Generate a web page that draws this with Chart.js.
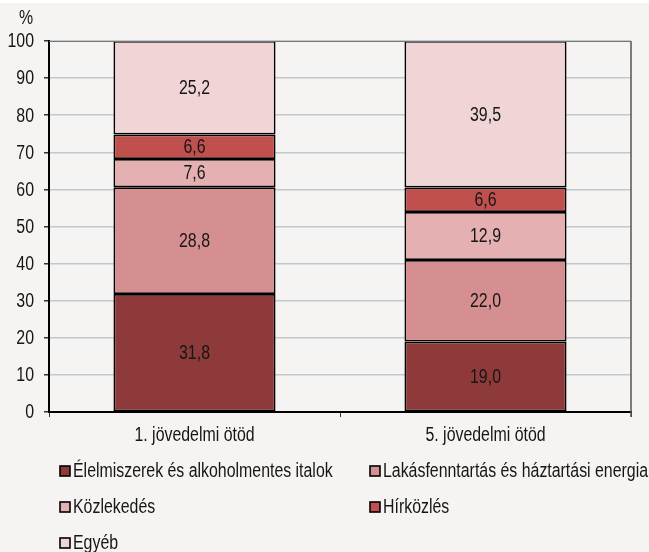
<!DOCTYPE html>
<html>
<head>
<meta charset="utf-8">
<script src="https://cdn.jsdelivr.net/npm/chart.js@4/dist/chart.umd.min.js"></script>
<style>
  html, body { margin: 0; padding: 0; background: #f5f4f2; }
  #wrap { width: 649px; height: 552px; position: relative; }
</style>
</head>
<body>
<div id="wrap"><canvas id="chart"></canvas></div>
<script>
// no narrow font installed, so Liberation Sans gets squeezed sideways
const FONT = "'Liberation Sans', Arial, sans-serif";
const FONT_SIZE = 19.5;
const SQUEEZE = 0.815;
const TEXT_COLOR = "#161616";

// ---------------- DATA ----------------
const categories = ["1. jövedelmi ötöd", "5. jövedelmi ötöd"];
const seriesNames = [
  "Élelmiszerek és alkoholmentes italok",
  "Lakásfenntartás és háztartási energia",
  "Közlekedés",
  "Hírközlés",
  "Egyéb"
];
const food = [31.8, 19.0];
const housing = [28.8, 22.0];
const transport = [7.6, 12.9];
const telecom = [6.6, 6.6];
const other = [25.2, 39.5];
const yTicks = [0, 10, 20, 30, 40, 50, 60, 70, 80, 90, 100];

const colors = ["#8e3a3a", "#d68f91", "#e4b0b1", "#c0504d", "#f1d4d5"];
const values = [food, housing, transport, telecom, other];

// ---------------- TEXT HELPER ----------------
function narrowText(ctx, text, x, y, align) {
  ctx.save();
  ctx.translate(x, y);
  ctx.scale(SQUEEZE, 1);
  ctx.font = FONT_SIZE + "px " + FONT;
  ctx.fillStyle = TEXT_COLOR;
  ctx.textAlign = align;
  ctx.textBaseline = "middle";
  ctx.fillText(text, 0, 0);
  ctx.restore();
}

// ---------------- PLUGINS ----------------
const background = {
  id: "background",
  beforeDraw(chart) {
    const ctx = chart.ctx;
    ctx.save();
    ctx.fillStyle = "#f5f4f2";
    ctx.fillRect(0, 0, chart.width, chart.height);
    ctx.fillStyle = "#ffffff";
    ctx.fillRect(0, 0, chart.width, 3);
    ctx.restore();
  }
};

const barLabels = {
  id: "barLabels",
  afterDatasetsDraw(chart) {
    const ctx = chart.ctx;
    chart.data.datasets.forEach((ds, i) => {
      chart.getDatasetMeta(i).data.forEach((bar, j) => {
        const y = (bar.y + bar.base) / 2;
        narrowText(ctx, ds.data[j].toFixed(1).replace(".", ","), bar.x, y + 1, "center");
      });
    });
  }
};

const frame = {
  id: "frame",
  afterDraw(chart) {
    const ctx = chart.ctx;
    const a = chart.chartArea;
    const xs = chart.scales.x;
    const ys = chart.scales.y;
    ctx.save();
    // right border
    ctx.strokeStyle = "#555";
    ctx.lineWidth = 1.5;
    ctx.beginPath();
    ctx.moveTo(a.right, a.top);
    ctx.lineTo(a.right, a.bottom + 5);
    ctx.stroke();
    // top line
    ctx.strokeStyle = "#777";
    ctx.lineWidth = 1;
    ctx.beginPath();
    ctx.moveTo(a.left, a.top + 0.5);
    ctx.lineTo(a.right, a.top + 0.5);
    ctx.stroke();
    ctx.restore();

    // tick labels
    yTicks.forEach(v => narrowText(ctx, String(v), 34, ys.getPixelForValue(v) + 1, "right"));
    categories.forEach((c, i) => narrowText(ctx, c, xs.getPixelForTick(i), a.bottom + 24, "center"));

    // unit label
    narrowText(ctx, "%", 26, 19, "center");

    // legend (2 columns)
    const cols = [60, 370];
    const rows = [471, 507, 543];
    seriesNames.forEach((name, i) => {
      const x = cols[i % 2];
      const y = rows[Math.floor(i / 2)];
      ctx.save();
      ctx.fillStyle = colors[i];
      ctx.fillRect(x, y - 5, 10, 10);
      ctx.strokeStyle = "#000";
      ctx.lineWidth = 1.6;
      ctx.strokeRect(x, y - 5, 10, 10);
      ctx.restore();
      narrowText(ctx, name, x + 13, y + 1, "left");
    });
  }
};

// ---------------- CHART ----------------
new Chart(document.getElementById("chart"), {
  type: "bar",
  data: {
    labels: categories,
    datasets: seriesNames.map((name, i) => ({
      label: name,
      data: values[i],
      backgroundColor: colors[i],
      borderColor: "#000",
      borderWidth: 1.75,
      borderSkipped: false,
      categoryPercentage: 1,
      barPercentage: 0.557
    }))
  },
  options: {
    responsive: true,
    maintainAspectRatio: false,
    animation: false,
    layout: { padding: { top: 41, right: 18, left: 0, bottom: 0 } },
    plugins: {
      legend: { display: false },
      tooltip: { enabled: false }
    },
    scales: {
      x: {
        stacked: true,
        afterFit(scale) { scale.height = 140; },
        grid: {
          offset: true,
          drawOnChartArea: false,
          drawTicks: true,
          tickLength: 5,
          color: "#333"
        },
        border: { color: "#000", width: 2 },
        ticks: { display: false }
      },
      y: {
        stacked: true,
        min: 0,
        max: 100,
        afterFit(scale) { scale.width = 49; },
        afterBuildTicks(scale) { scale.ticks = yTicks.map(v => ({ value: v })); },
        grid: {
          color: "#c3c8cd",
          lineWidth: 1.5,
          tickColor: "#333",
          tickLength: 5
        },
        border: { color: "#000", width: 2 },
        ticks: { display: false }
      }
    }
  },
  plugins: [background, barLabels, frame]
});
</script>
</body>
</html>
